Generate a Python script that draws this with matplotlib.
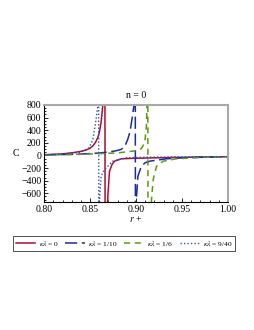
import numpy as np
import matplotlib
matplotlib.use('Agg')
import matplotlib.pyplot as plt
from matplotlib.ticker import MultipleLocator, FormatStrFormatter

# curve values (Maple joins the branches across each pole)
r_k0 = [0.80, 0.81, 0.82, 0.831, 0.84, 0.8456, 0.85, 0.853, 0.856, 0.8584, 0.860, 0.862, 0.8638, 0.865, 0.866,
        0.8665, 0.868, 0.8693, 0.8711, 0.874, 0.8766, 0.884, 0.8985, 0.92, 0.95, 0.975, 1.0]
C_k0 = [12, 18, 25, 43, 65, 85, 115, 150, 210, 283, 360, 524, 790, 1500, 3000,
        -3000, -1200, -650, -251, -140, -91, -53, -45, -38, -30, -24, -20]

r_k1 = [0.80, 0.82, 0.84, 0.86, 0.87, 0.877, 0.884, 0.888, 0.891, 0.8935, 0.8956, 0.8977, 0.8985, 0.899,
        0.8995, 0.9003, 0.902, 0.9058, 0.91, 0.915, 0.933, 0.9514, 0.975, 1.0]
C_k1 = [8, 14, 22, 38, 55, 70, 96, 150, 256, 380, 577, 790, 1500, 3000,
        -3000, -705, -330, -170, -115, -91, -53, -37, -27, -20]

r_k2 = [0.80, 0.82, 0.84, 0.86, 0.88, 0.897, 0.902, 0.9058, 0.9095, 0.9113, 0.912, 0.9126,
        0.9132, 0.9155, 0.9168, 0.9186, 0.9223, 0.9295, 0.944, 0.9697, 1.0]
C_k2 = [6, 12, 18, 28, 40, 69, 85, 110, 203, 470, 900, 3000,
        -3000, -1200, -705, -385, -171, -91, -53, -32, -22]

r_k3 = [0.80, 0.82, 0.84, 0.849, 0.853, 0.8566, 0.8584, 0.859,
        0.8598, 0.8602, 0.862, 0.8657, 0.8745, 0.882, 0.889, 0.91, 0.95, 1.0]
C_k3 = [10, 20, 50, 123, 250, 577, 790, 3000,
        -3000, -705, -330, -224, -91, -64, -37, -28, -22, -18]

labels = [r'$\kappa\lambda$ = 0', r'$\kappa\lambda$ = 1/10',
          r'$\kappa\lambda$ = 1/6', r'$\kappa\lambda$ = 9/40']

plt.rcParams['font.family'] = ['Liberation Serif', 'DejaVu Serif']
plt.rcParams['mathtext.fontset'] = 'stix'

fig = plt.figure(figsize=(2.55, 3.3), dpi=100)
ax = fig.add_axes([0.173, 0.388, 0.721, 0.294])

ax.plot(r_k0, C_k0, color='#a8102c', lw=1.1, ls='-', label=labels[0])
ax.plot(r_k1, C_k1, color='#1c2c9c', lw=1.1, ls=(0, (8, 3)), label=labels[1])
ax.plot(r_k2, C_k2, color='#5c9a12', lw=1.1, ls=(0, (4, 3)), label=labels[2])
ax.plot(r_k3, C_k3, color='#3050c8', lw=1.0, ls=(0, (1, 1.5)), label=labels[3])

ax.set_xlim(0.80, 1.00)
ax.set_ylim(-737, 800)
ax.xaxis.set_major_locator(MultipleLocator(0.05))
ax.xaxis.set_minor_locator(MultipleLocator(0.01))
ax.xaxis.set_major_formatter(FormatStrFormatter('%.2f'))
ax.yaxis.set_major_locator(MultipleLocator(200))
ax.yaxis.set_minor_locator(MultipleLocator(50))
ax.tick_params(which='both', direction='in', labelsize=7, width=0.6, pad=2)
ax.tick_params(which='major', length=3)
ax.tick_params(which='minor', length=1.5)

# Maple-style frame: black axes, grey box
for s in ['top', 'right']:
    ax.spines[s].set_color('#a8a8a8')
    ax.spines[s].set_linewidth(1.5)
for s in ['left', 'bottom']:
    ax.spines[s].set_linewidth(0.8)

ax.set_title('n = 0', fontsize=7, pad=5)
ax.set_xlabel(r'$r$ +', fontsize=7, labelpad=0)
ax.set_ylabel('C', fontsize=7, rotation=0, labelpad=4, va='center')

leg = fig.legend(loc='center', ncol=4, fontsize=5.4,
                 frameon=True, fancybox=False, edgecolor='black', handlelength=2.6,
                 handletextpad=0.5, columnspacing=0.8, borderpad=0.35)
leg.set_bbox_to_anchor((0.487, 1 - 243.5 / 330), transform=fig.transFigure)
leg.get_frame().set_linewidth(0.6)

plt.savefig('out.png', dpi=100)
plt.close()
